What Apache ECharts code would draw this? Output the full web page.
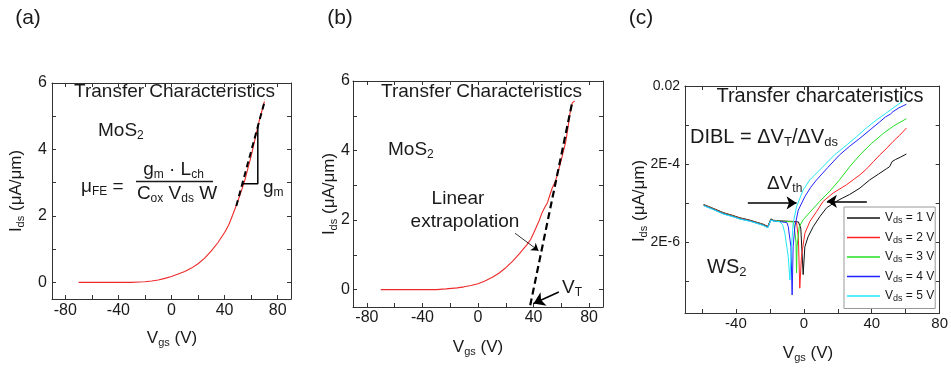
<!DOCTYPE html>
<html>
<head>
<meta charset="utf-8">
<script src="https://cdn.jsdelivr.net/npm/echarts@6/dist/echarts.min.js"></script>
<style>
  html, body { margin: 0; padding: 0; background: #fff; }
  #chart { width: 951px; height: 371px; }
</style>
</head>
<body>
<div id="chart"></div>
<script>
// ---------------- DATA ----------------
// Panel (a): MoS2 transfer curve (linear)
const vgsA = [-70,-60,-50,-40,-30,-25,-20,-15,-10,-5,0,5,10,15,20,25,30,35,40,43,46,50,53,55,58,60,62,64,66,68,70];
const idsA = [0,0,0,0,0,0.01,0.02,0.04,0.07,0.12,0.18,0.25,0.33,0.43,0.56,0.73,0.95,1.2,1.5,1.72,2.02,2.45,2.8,3.04,3.5,3.8,4.15,4.5,4.85,5.15,5.45];
const fitA = [[48.8, 2.3], [70.5, 5.5]];
const slopeA = [[53.3, 2.97], [65, 2.97], [65, 4.74]];

// Panel (b): MoS2 transfer curve with linear extrapolation
const vgsB = [-70,-60,-50,-40,-30,-23,-15,-10,-5,0,5,11,15,20,25,30,35,38,40,42,44,46,48,50,52,53.5,55,56,58,60,61.5,63,64.7,66.2,67.9,69.6];
const idsB = [0,0,0,0,0,0.02,0.05,0.08,0.12,0.17,0.25,0.37,0.47,0.63,0.82,1.04,1.28,1.45,1.62,1.8,1.98,2.2,2.36,2.5,2.75,2.93,3.05,3.15,3.44,3.73,3.98,4.22,4.63,5.07,5.37,5.43];
const fitB = [[37.6, -0.45], [67.9, 5.4]];
const vtArrowB = [[58.2, -0.07], [40, -0.4]];
const extrapArrowB = [[26.7, 1.62], [43.6, 1.12]];

const xLabelsAB = [-80, -40, 0, 40, 80];
const xTicksAB = [-80, -60, -40, -20, 0, 20, 40, 60, 80];
const yLabelsAB = [0, 2, 4, 6];
const yTicksAB = [0, 1, 2, 3, 4, 5, 6];

// Panel (c): WS2 log-scale transfer curves for Vds = 1..5 V  [Vgs, Ids]
const vds1 = [[-59,1.82e-5],[-53,1.43e-5],[-47.5,1.13e-5],[-42,9.6e-6],[-37.6,8.3e-6],[-32,7.3e-6],[-27.8,6.4e-6],[-24,5.7e-6],[-21.2,5.0e-6],[-20.4,5.1e-6],[-19.4,7.8e-6],[-18,7.2e-6],[-14,6.9e-6],[-10,6.8e-6],[-6,6.7e-6],[-3.2,6.5e-6],[-1.8,4.5e-6],[-0.4,2.9e-7],[0.6,1.5e-6],[2.5,2.7e-6],[5.5,4.9e-6],[9.4,8.9e-6],[13.4,1.5e-5],[19.2,2.2e-5],[23,2.7e-5],[27,3.3e-5],[33,4.8e-5],[38.8,7.8e-5],[44,1.1e-4],[48.6,1.5e-4],[50.5,1.7e-4],[52,2.3e-4],[54,2.6e-4],[57,3.0e-4],[60.4,3.6e-4]];
const vds2 = [[-59,1.78e-5],[-53,1.4e-5],[-47.5,1.1e-5],[-42,9.4e-6],[-37.6,8.1e-6],[-32,7.1e-6],[-27.8,6.3e-6],[-24,5.6e-6],[-21.2,4.9e-6],[-20.4,5.0e-6],[-19.4,7.6e-6],[-18,7.1e-6],[-14,6.8e-6],[-10,6.7e-6],[-6,6.6e-6],[-4.3,6.3e-6],[-3.2,2.5e-6],[-2.4,1.3e-7],[-1.4,8.5e-7],[0.6,3.3e-6],[3.5,6.6e-6],[7.5,1.2e-5],[11.4,2.2e-5],[17.3,3.6e-5],[25,5.8e-5],[29,7.8e-5],[33,1.05e-4],[37,1.5e-4],[41,2.3e-4],[44.7,3.4e-4],[48.5,4.9e-4],[52.5,7.5e-4],[56.5,1.1e-3],[60.4,1.66e-3]];
const vds3 = [[-59,1.75e-5],[-53,1.37e-5],[-47.5,1.08e-5],[-42,9.2e-6],[-37.6,7.9e-6],[-32,7.0e-6],[-27.8,6.2e-6],[-24,5.5e-6],[-21.2,4.8e-6],[-20.4,4.9e-6],[-19.4,7.5e-6],[-18,7.0e-6],[-14,6.8e-6],[-10,6.7e-6],[-6,6.5e-6],[-5.2,6.0e-6],[-4.6,2.0e-6],[-4.3,3.2e-7],[-4,1.5e-6],[-2.7,4.9e-6],[-0.4,7.4e-6],[3.5,1.15e-5],[9.4,2.2e-5],[15.3,4.0e-5],[21,7.8e-5],[27,1.7e-4],[33,3.4e-4],[40,6.8e-4],[46.7,1.2e-3],[53,1.9e-3],[60.4,2.9e-3]];
const vds4 = [[-59,1.72e-5],[-53,1.35e-5],[-47.5,1.06e-5],[-42,9.0e-6],[-37.6,7.8e-6],[-32,6.9e-6],[-27.8,6.1e-6],[-24,5.4e-6],[-21.2,4.7e-6],[-20.4,4.8e-6],[-19.4,7.4e-6],[-18,6.9e-6],[-14,6.6e-6],[-10,6.3e-6],[-9.2,5.0e-6],[-7.6,1.5e-6],[-6.9,8.7e-8],[-6.3,1.5e-6],[-5.3,4.9e-6],[-3.3,1.3e-5],[0.6,2.9e-5],[4,5.0e-5],[7.5,7.8e-5],[14,1.6e-4],[21,3.4e-4],[27,5.7e-4],[33,9.1e-4],[39,1.5e-3],[44.7,2.4e-3],[48,3.2e-3],[51,3.8e-3],[52.5,4.4e-3],[56,5.5e-3],[60.4,6.8e-3]];
const vds5 = [[-59,1.7e-5],[-53,1.33e-5],[-47.5,1.04e-5],[-42,8.9e-6],[-37.6,7.7e-6],[-32,6.8e-6],[-27.8,6.0e-6],[-24,5.3e-6],[-21.2,4.6e-6],[-20.4,4.7e-6],[-19.4,7.3e-6],[-18,6.9e-6],[-14.1,6.6e-6],[-12.5,5.5e-6],[-11.2,3.4e-6],[-9.2,8.5e-7],[-8.2,2.1e-7],[-7.3,1.5e-6],[-6.3,6.0e-6],[-4.3,1.6e-5],[-0.4,4.3e-5],[3.5,7.8e-5],[10,1.5e-4],[18,3.4e-4],[25,6.0e-4],[31,1.0e-3],[37,1.7e-3],[42.8,2.7e-3],[48,3.9e-3],[52.5,5.4e-3],[58.4,8.3e-3]];
const vdsNames = ['1', '2', '3', '4', '5'];
const vdsColors = ['#111111', '#ff2222', '#22e022', '#2222ff', '#22e8f8'];
const shiftArrowsC = [[[-33, 2.0e-5], [-4.3, 2.0e-5]], [[37.1, 2.2e-5], [13.6, 2.2e-5]]];

const xLabelsC = [-40, 0, 40, 80];
const xTicksC = [-60, -40, -20, 0, 20, 40, 60, 80];
const yLabelsC = [2e-6, 2e-4, 0.02];
const yLabelTextC = ['2E-6', '2E-4', '0.02'];
const yTicksC = [2e-7, 2e-6, 2e-5, 2e-4, 2e-3, 0.02];

// ---------------- STYLE ----------------
const FONT = '"Liberation Sans", Arial, Helvetica, sans-serif';
const INK = '#1a1a1a';
const AXIS = '#333';

const chart = echarts.init(document.getElementById('chart'));

const grids = [
  { left: 52, top: 83, width: 239, height: 216 },
  { left: 353, top: 81, width: 250, height: 226 },
  { left: 685, top: 86, width: 255, height: 227 }
];

function xAxisDef(g, min, max, labels, ticks, pos, labelMargin, fs) {
  return {
    gridIndex: g, type: 'value', min, max, position: pos,
    axisLine: { show: true, onZero: false, lineStyle: { color: AXIS, width: 1 } },
    axisTick: { show: true, inside: true, length: 4, customValues: ticks, lineStyle: { color: AXIS, width: 1 } },
    axisLabel: pos === 'bottom'
      ? { show: true, customValues: labels, fontFamily: FONT, fontSize: fs, color: INK, margin: labelMargin }
      : { show: false },
    splitLine: { show: false }
  };
}
function yAxisDef(g, type, min, max, labels, ticks, pos, labelMargin, fs, fmt) {
  const d = {
    gridIndex: g, type, min, max, position: pos,
    axisLine: { show: true, onZero: false, lineStyle: { color: AXIS, width: 1 } },
    axisTick: { show: true, inside: true, length: 4, customValues: ticks, lineStyle: { color: AXIS, width: 1 } },
    axisLabel: pos === 'left'
      ? { show: true, customValues: labels, fontFamily: FONT, fontSize: fs, color: INK, margin: labelMargin, formatter: fmt }
      : { show: false },
    splitLine: { show: false }
  };
  if (type === 'log') d.logBase = 10;
  return d;
}
function fmtC(v) {
  let best = 0, bd = 1e9;
  yLabelsC.forEach((t, i) => { const dd = Math.abs(Math.log10(t) - Math.log10(v)); if (dd < bd) { bd = dd; best = i; } });
  return yLabelTextC[best];
}
function fmtAB(v) { return String(Math.round(v)); }

const xAxes = [
  xAxisDef(0, -90, 90, xLabelsAB, xTicksAB, 'bottom', 4, 16),
  xAxisDef(0, -90, 90, xLabelsAB, xTicksAB, 'top', 4, 16),
  xAxisDef(1, -90, 90, xLabelsAB, xTicksAB, 'bottom', 3, 16),
  xAxisDef(1, -90, 90, xLabelsAB, xTicksAB, 'top', 3, 16),
  xAxisDef(2, -70, 80, xLabelsC, xTicksC, 'bottom', 3, 15),
  xAxisDef(2, -70, 80, xLabelsC, xTicksC, 'top', 3, 15)
];
const yAxes = [
  yAxisDef(0, 'value', -0.5, 6, yLabelsAB, yTicksAB, 'left', 5, 16, fmtAB),
  yAxisDef(0, 'value', -0.5, 6, yLabelsAB, yTicksAB, 'right', 5, 16, fmtAB),
  yAxisDef(1, 'value', -0.5, 6, yLabelsAB, yTicksAB, 'left', 3, 16, fmtAB),
  yAxisDef(1, 'value', -0.5, 6, yLabelsAB, yTicksAB, 'right', 3, 16, fmtAB),
  yAxisDef(2, 'log', 3e-8, 0.02, yLabelsC, yTicksC, 'left', 5, 14, fmtC),
  yAxisDef(2, 'log', 3e-8, 0.02, yLabelsC, yTicksC, 'right', 5, 14, fmtC)
];

function zip(xs, ys) { return xs.map((x, i) => [x, ys[i]]); }

function curve(name, xi, yi, data, color, width, dash) {
  return {
    name, type: 'line', xAxisIndex: xi, yAxisIndex: yi, data,
    symbol: 'none', showSymbol: false, smooth: false, animation: false, silent: true,
    lineStyle: { color, width, type: dash || 'solid' }, itemStyle: { color }, z: 3
  };
}
function arrows(name, xi, yi, segs, width, size) {
  return {
    name, type: 'lines', coordinateSystem: 'cartesian2d', xAxisIndex: xi, yAxisIndex: yi,
    data: segs.map(s => ({ coords: s })),
    symbol: ['none', 'arrow'], symbolSize: size, silent: true, animation: false,
    lineStyle: { color: '#000', width, opacity: 1, curveness: 0 }, z: 6
  };
}

const series = [
  curve('a-curve', 0, 0, zip(vgsA, idsA), '#ee2a2a', 1.1),
  curve('a-fit', 0, 0, fitA, '#000', 2, [6, 4]),
  curve('a-slope', 0, 0, slopeA, '#000', 1.5),
  curve('b-curve', 2, 2, zip(vgsB, idsB), '#ee2a2a', 1.1),
  curve('b-fit', 2, 2, fitB, '#000', 2.2, [7, 4]),
  arrows('b-vt', 2, 2, [vtArrowB], 1.5, 11),
  arrows('b-ext', 2, 2, [extrapArrowB], 0.8, 7),
  curve(vdsNames[0], 4, 4, vds1, vdsColors[0], 1),
  curve(vdsNames[1], 4, 4, vds2, vdsColors[1], 1),
  curve(vdsNames[2], 4, 4, vds3, vdsColors[2], 1),
  curve(vdsNames[3], 4, 4, vds4, vdsColors[3], 1),
  curve(vdsNames[4], 4, 4, vds5, vdsColors[4], 1),
  arrows('c-shift', 4, 4, shiftArrowsC, 1.5, 10)
];

function rich(size) {
  const sub = Math.round(size * 0.64);
  return {
    s: { fontSize: sub, fontFamily: FONT, fill: INK, padding: [Math.round(size * 0.5), 0, 0, 0] }
  };
}
function txt(x, y, text, size, align, extra) {
  return Object.assign({
    type: 'text', x, y, z: 20, silent: true,
    style: { text, fontSize: size, fontFamily: FONT, fill: INK, align: align || 'left', verticalAlign: 'middle', rich: rich(size) }
  }, extra || {});
}

const graphics = [
  txt(28, 18, '(a)', 21, 'center'),
  txt(340, 18, '(b)', 21, 'center'),
  txt(641, 18, '(c)', 21, 'center'),
  // panel a
  txt(174.5, 92, 'Transfer Characteristics', 19, 'center'),
  txt(98, 131, 'MoS{s|2}', 19, 'left'),
  txt(81, 187, 'μ{s|FE} =', 19, 'left'),
  txt(173.5, 170, 'g{s|m} · L{s|ch}', 19, 'center'),
  { type: 'line', z: 20, silent: true, shape: { x1: 136, y1: 181.5, x2: 213, y2: 181.5 }, style: { stroke: INK, lineWidth: 1.6 } },
  txt(177, 194, 'C{s|ox} V{s|ds} W', 19, 'center'),
  txt(263, 188, 'g{s|m}', 19, 'left'),
  txt(16, 191, 'I{s|ds} (μA/μm)', 17, 'center', { rotation: Math.PI / 2 }),
  txt(172, 338, 'V{s|gs} (V)', 17, 'center'),
  // panel b
  txt(481.5, 92, 'Transfer Characteristics', 19, 'center'),
  txt(388, 150, 'MoS{s|2}', 19, 'left'),
  txt(458, 199, 'Linear', 19, 'center'),
  txt(465, 222, 'extrapolation', 19, 'center'),
  txt(562, 288, 'V{s|T}', 19, 'left'),
  txt(329, 194, 'I{s|ds} (μA/μm)', 17, 'center', { rotation: Math.PI / 2 }),
  txt(478, 347, 'V{s|gs} (V)', 17, 'center'),
  // panel c
  txt(820, 96, 'Transfer charcateristics', 20, 'center'),
  txt(690, 137, 'DIBL = ΔV{s|T}/ΔV{s|ds}', 20, 'left'),
  txt(767, 184, 'ΔV{s|th}', 19, 'left'),
  txt(707, 267, 'WS{s|2}', 20, 'left'),
  txt(639, 201, 'I{s|ds} (μA/μm)', 17, 'center', { rotation: Math.PI / 2 }),
  txt(808, 353, 'V{s|gs} (V)', 17, 'center')
];

const option = {
  animation: false,
  backgroundColor: '#fff',
  grid: grids,
  xAxis: xAxes,
  yAxis: yAxes,
  legend: {
    data: vdsNames,
    orient: 'vertical', left: 844, top: 207,
    padding: [5, 1, 5, 3], itemWidth: 33, itemHeight: 1.5, itemGap: 6,
    icon: 'rect',
    borderColor: '#999', borderWidth: 1, backgroundColor: '#fff',
    selectedMode: false,
    formatter: n => 'V{s|ds} = ' + n + ' V',
    textStyle: {
      fontFamily: FONT, fontSize: 12, color: INK,
      rich: { s: { fontFamily: FONT, fontSize: 9, color: INK, padding: [6, 0, 0, 0] } }
    }
  },
  series,
  graphic: graphics
};
chart.setOption(option);
</script>
</body>
</html>
